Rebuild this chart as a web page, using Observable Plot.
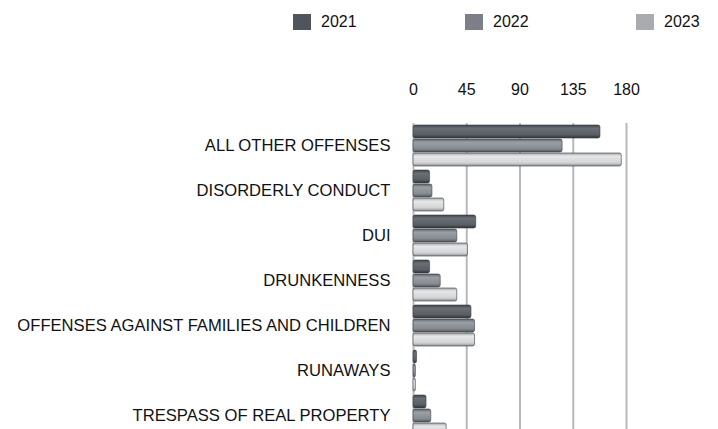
<!DOCTYPE html>
<html>
<head>
<meta charset="utf-8">
<script src="https://cdn.jsdelivr.net/npm/d3@7"></script>
<script src="https://cdn.jsdelivr.net/npm/@observablehq/plot@0.6"></script>
<style>
  html, body { margin: 0; padding: 0; background: #fff; overflow: hidden; }
  body { width: 718px; font-family: "Liberation Sans", Arial, sans-serif; }
  #legend { position: relative; height: 45px; width: 718px; }
  .item { position: absolute; top: 14px; display: flex; align-items: center; font-size: 16px; color: #111; line-height: 16px; }
  .sw { width: 18px; height: 16px; margin-right: 10px; }
  svg { display: block; }
</style>
</head>
<body>
<div id="legend"></div>
<div id="chart"></div>
<script>
const categories = [
  "ALL OTHER OFFENSES",
  "DISORDERLY CONDUCT",
  "DUI",
  "DRUNKENNESS",
  "OFFENSES AGAINST FAMILIES AND CHILDREN",
  "RUNAWAYS",
  "TRESPASS OF REAL PROPERTY"
];
const years = ["2021", "2022", "2023"];
const v2021 = [158, 14, 53, 14, 49, 3, 11];
const v2022 = [126, 16, 37, 23, 52, 2, 15];
const v2023 = [176, 26, 46, 37, 52, 2, 28];
const xTicks = [0, 45, 90, 135, 180];
const colors = ["#50555d", "#7b7f88", "#a9abae"];

const series = [v2021, v2022, v2023];
const data = [];
categories.forEach((c, i) => years.forEach((y, j) => data.push({category: c, year: y, value: series[j][i]})));

// legend
const legend = document.getElementById("legend");
const legendLeft = [293, 465, 636];
years.forEach((y, j) => {
  const d = document.createElement("div");
  d.className = "item";
  d.style.left = legendLeft[j] + "px";
  d.innerHTML = `<span class="sw" style="background:${colors[j]}"></span><span>${y}</span>`;
  legend.appendChild(d);
});

const chart = Plot.plot({
  width: 718,
  height: 400,
  marginTop: 76,
  marginBottom: 5,
  marginLeft: 413,
  marginRight: 92,
  style: {fontFamily: "Liberation Sans, Arial, sans-serif", fontSize: "16.6px", color: "#111", background: "white", overflow: "visible"},
  x: {domain: [0, 180], ticks: xTicks, axis: "top", label: null, tickSize: 0, tickPadding: 29},
  y: {domain: years, axis: null, paddingInner: 0.08, paddingOuter: 0.12},
  fy: {domain: categories, padding: 0, label: null, axis: "left", tickSize: 0, tickPadding: 23},
  color: {domain: years, range: colors},
  marks: [
    Plot.ruleX(xTicks, {stroke: "#b9b9b9", strokeWidth: 2}),
    Plot.barX(data, {fy: "category", y: "year", x: "value", fill: "year", rx: 2, stroke: "#3a3d42", strokeWidth: 0.6})
  ]
});
document.getElementById("chart").appendChild(chart);

const svg = d3.select(chart);
svg.selectAll("g[aria-label='x-axis tick label'] text, g[aria-label='x-axis'] text").style("font-size", "16px");

// 3D-like gradients for the bars
const defs = svg.insert("defs", ":first-child");
const grads = [
  ["#3e4248", "#6a6e75", "#5a5e65", "#2f3237"],
  ["#5f636b", "#9a9ea5", "#868a91", "#50545b"],
  ["#a3a5a8", "#e6e7e9", "#d3d4d6", "#8e9093"]
];
colors.forEach((c, j) => {
  const g = defs.append("linearGradient").attr("id", "g" + j).attr("x1", 0).attr("y1", 0).attr("x2", 0).attr("y2", 1);
  g.append("stop").attr("offset", "0%").attr("stop-color", grads[j][0]);
  g.append("stop").attr("offset", "25%").attr("stop-color", grads[j][1]);
  g.append("stop").attr("offset", "75%").attr("stop-color", grads[j][2]);
  g.append("stop").attr("offset", "100%").attr("stop-color", grads[j][3]);
});
svg.selectAll("rect").each(function() {
  const f = this.getAttribute("fill");
  const j = colors.indexOf(f);
  if (j >= 0) this.setAttribute("fill", `url(#g${j})`);
});
</script>
</body>
</html>
